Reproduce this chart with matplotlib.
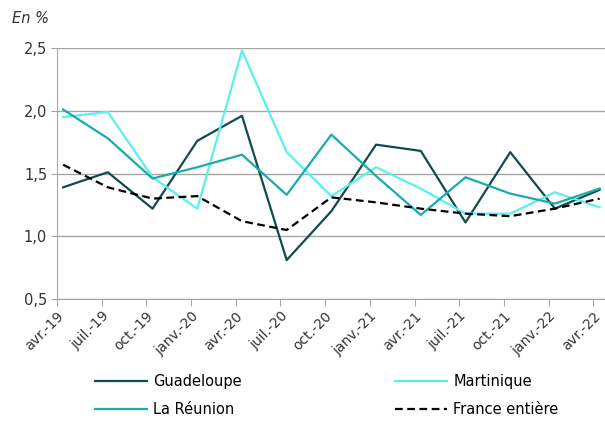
import numpy as np
import matplotlib.pyplot as plt

# Données
trimestres = ['avr.-19', 'juil.-19', 'oct.-19', 'janv.-20', 'avr.-20', 'juil.-20',
              'oct.-20', 'janv.-21', 'avr.-21', 'juil.-21', 'oct.-21', 'janv.-22',
              'avr.-22']
guadeloupe = [1.39, 1.51, 1.22, 1.76, 1.96, 0.81, 1.20, 1.73, 1.68, 1.11, 1.67, 1.22, 1.37]
martinique = [1.95, 1.99, 1.47, 1.22, 2.48, 1.67, 1.32, 1.55, 1.38, 1.18, 1.18, 1.35, 1.23]
reunion = [2.01, 1.78, 1.46, 1.55, 1.65, 1.33, 1.81, 1.48, 1.17, 1.47, 1.34, 1.26, 1.38]
france = [1.57, 1.39, 1.30, 1.32, 1.12, 1.05, 1.31, 1.27, 1.22, 1.18, 1.16, 1.22, 1.30]
y_ticks = [0.5, 1.0, 1.5, 2.0, 2.5]
y_labels = ['0,5', '1,0', '1,5', '2,0', '2,5']

plt.rcParams['font.family'] = ['DejaVu Sans']
gris = '#a6a6a6'

fig = plt.figure(figsize=(6.05, 4.25), dpi=100)
ax = fig.add_axes([0.094, 0.2965, 0.906, 0.5905])

x = np.arange(len(trimestres))
l1, = ax.plot(x, guadeloupe, color='#0f4d4d', lw=1.6, label='Guadeloupe')
l2, = ax.plot(x, martinique, color='#5cefef', lw=1.6, label='Martinique')
l3, = ax.plot(x, reunion, color='#1aabab', lw=1.6, label='La Réunion')
l4, = ax.plot(x, france, color='black', lw=1.6, ls=(0, (3.5, 2)), label='France entière')

# Axes
ax.set_ylim(0.5, 2.5)
ax.set_yticks(y_ticks)
ax.set_yticklabels(y_labels, fontsize=10.5, color='#333333')
ax.set_xlim(-0.14, 12.12)
ax.set_xticks(x - 0.14)
ax.set_xticklabels(trimestres, rotation=45, ha='right', rotation_mode='anchor',
                   fontsize=10, color='#333333')
ax.grid(axis='y', color=gris, lw=1)
ax.set_axisbelow(True)
for s in ['top', 'right']:
    ax.spines[s].set_visible(False)
for s in ['left', 'bottom']:
    ax.spines[s].set_color(gris)
ax.tick_params(axis='x', length=5, color=gris, pad=2)
ax.tick_params(axis='y', length=4, color=gris, pad=3)

fig.text(0.02, 0.945, 'En %', fontsize=10.5, style='italic', color='#333333')

# Légende (ordre ligne par ligne comme l'original)
fig.legend([l1, l3, l2, l4], ['Guadeloupe', 'La Réunion', 'Martinique', 'France entière'],
           loc='lower left', bbox_to_anchor=(0.135, -0.012), ncol=2, frameon=False,
           fontsize=10.5, handlelength=3.6, handletextpad=0.4,
           columnspacing=10.5, labelspacing=0.9)

fig.savefig('out.png', dpi=100)
